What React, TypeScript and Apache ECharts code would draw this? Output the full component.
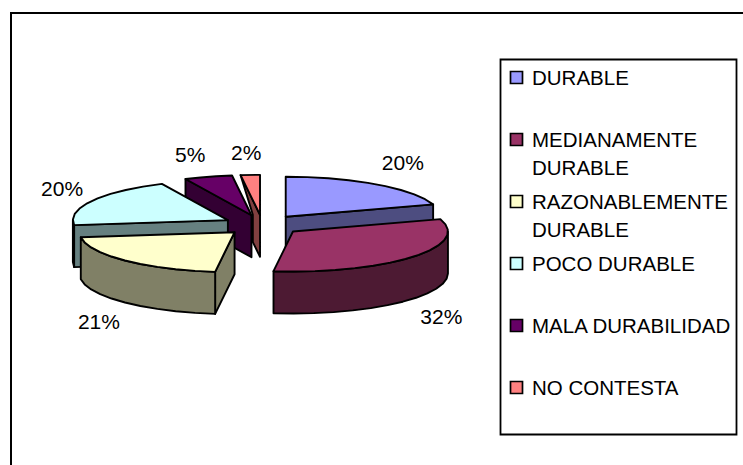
import React, { useEffect, useRef } from "react";
import * as echarts from "echarts";

const categories = ["DURABLE", "MEDIANAMENTE\nDURABLE", "RAZONABLEMENTE\nDURABLE", "POCO DURABLE", "MALA DURABILIDAD", "NO CONTESTA"];
const values = [20, 32, 21, 20, 5, 2];
const faceColors = ["#9999FF", "#993366", "#FFFFCC", "#CCFFFF", "#660066", "#FF8080"];
const sideColors = ["#4D4D80", "#4D1A33", "#808066", "#668080", "#330033", "#804040"];
const drawOrder = [5, 4, 3, 2, 0, 1];
const labelOffsets = [[26, -22], [29, 60], [-26, 61], [-30, -12], [-18, -22], [-4, -22]];
const legendFirstLineY = [77.5, 139.5, 201.5, 263.5, 325.5, 387.5];

const FONT = '21px "Liberation Sans", Arial, sans-serif';
const LEGEND_FONT = '20.5px "Liberation Sans", Arial, sans-serif';
const CX = 262.5, CY = 225, RX = 155, RY = 40, DEPTH = 42, EXPLODE = 39.5;
const TOTAL = values.reduce((a, b) => a + b, 0);
const starts: number[] = [];
values.reduce((acc, v, i) => { starts[i] = acc; return acc + v; }, 0);
const rad = (v: number) => (v / TOTAL) * Math.PI * 2;

function renderSlice(params: any, api: any) {
  const i = drawOrder[params.dataIndex];
  const value = api.value(0);
  const a0 = rad(starts[i]);
  const a1 = a0 + rad(value);
  const mid = (a0 + a1) / 2;
  const ax = CX + EXPLODE * Math.sin(mid);
  const ay = CY - EXPLODE * (RY / RX) * Math.cos(mid);
  const rim = (a: number): number[] => [ax + RX * Math.sin(a), ay - RY * Math.cos(a)];
  const down = (p: number[]) => [p[0], p[1] + DEPTH];
  const arc = (s: number, e: number) => {
    const n = Math.max(1, Math.ceil((e - s) / 0.14));
    const out: number[][] = [];
    for (let k = 0; k <= n; k++) out.push(rim(s + ((e - s) * k) / n));
    return out;
  };
  const apex = [ax, ay];
  const base = { stroke: "#000", lineWidth: 1.9, lineJoin: "round" };
  const side = { ...base, fill: sideColors[i] };
  const poly = (points: number[][], style: any) => ({ type: "polygon", shape: { points }, style });
  const children: any[] = [];
  if (Math.sin(a0) < -1e-6) {
    const r = rim(a0);
    if (a1 - a0 < 0.3) {
      const t = 0.37;
      const px = ax + t * (r[0] - ax);
      const py = ay + t * (r[1] - ay);
      children.push(poly([r, apex, down(apex), [px, py + DEPTH], [px, ay]], side));
    } else {
      children.push(poly([r, apex, down(apex), down(r)], side));
    }
  }
  if (Math.sin(a1) > 1e-6) {
    const r = rim(a1);
    children.push(poly([apex, r, down(r), down(apex)], side));
  }
  const v0 = Math.max(a0, Math.PI / 2);
  const v1 = Math.min(a1, (Math.PI * 3) / 2);
  if (v1 > v0) {
    const top = arc(v0, v1);
    children.push(poly([...top, ...top.slice().reverse().map(down)], side));
  }
  children.push(poly([apex, ...arc(a0, a1)], { ...base, fill: faceColors[i] }));
  const lr = rim(mid);
  children.push({
    type: "text",
    style: {
      text: `${value}%`,
      x: lr[0] + labelOffsets[i][0],
      y: lr[1] + labelOffsets[i][1],
      font: FONT,
      fill: "#000",
      align: "center",
      verticalAlign: "middle",
    },
  });
  return { type: "group", children };
}

export default function App() {
  const ref = useRef<HTMLDivElement>(null);
  useEffect(() => {
    document.body.style.margin = "0";
    const chart = echarts.init(ref.current!, null, { renderer: "svg" });
    const legendElements: any[] = [
      { type: "rect", shape: { x: 500.5, y: 59.5, width: 236, height: 375 }, style: { fill: "#fff", stroke: "#000", lineWidth: 1.8 } },
    ];
    categories.forEach((name, i) => {
      const y = legendFirstLineY[i];
      legendElements.push({
        type: "rect",
        shape: { x: 510.5, y: y - 6, width: 12, height: 12 },
        style: { fill: faceColors[i], stroke: "#000", lineWidth: 1.7 },
      });
      legendElements.push({
        type: "text",
        style: { text: name, x: 532, y: y - 14.5, font: LEGEND_FONT, lineHeight: 28, fill: "#000", align: "left", verticalAlign: "top" },
      });
    });
    chart.setOption({
      animation: false,
      backgroundColor: "#fff",
      graphic: [
        { type: "line", shape: { x1: 10, y1: 13, x2: 743, y2: 13 }, style: { stroke: "#000", lineWidth: 2.2 } },
        { type: "line", shape: { x1: 11, y1: 12, x2: 11, y2: 465 }, style: { stroke: "#000", lineWidth: 2 } },
        ...legendElements,
      ],
      series: [
        {
          type: "custom",
          coordinateSystem: "none",
          renderItem: renderSlice,
          silent: true,
          data: drawOrder.map((i) => ({ name: categories[i].replace("\n", " "), value: [values[i]] })),
        },
      ],
    });
    return () => chart.dispose();
  }, []);
  return <div ref={ref} style={{ width: 743, height: 465, position: "absolute", left: 0, top: 0 }} />;
}
